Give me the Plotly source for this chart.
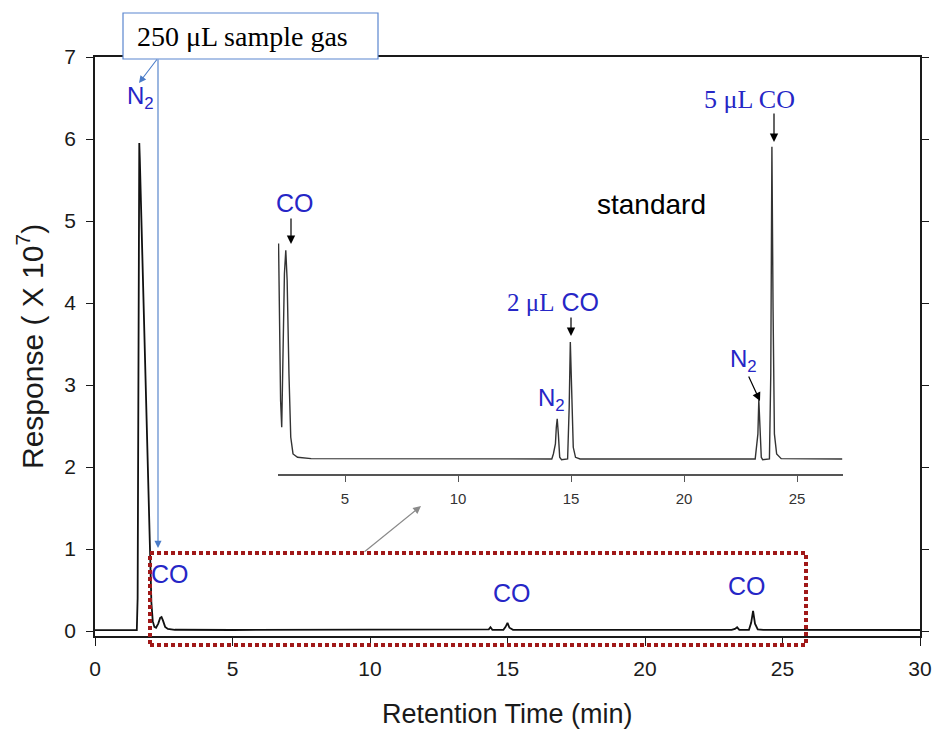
import plotly.graph_objects as go

# ---------------- data ----------------
# sample chromatogram (250 uL sample gas), response x 10^7
main_time = [0.0, 1.52, 1.55, 1.58, 1.61, 1.63, 1.70, 1.80, 1.90, 1.98, 2.05, 2.10, 2.16,
             2.22, 2.30, 2.37, 2.42, 2.47, 2.55, 2.65, 2.90, 5.0, 14.2, 14.32, 14.38,
             14.45, 14.85, 14.93, 15.0, 15.07, 15.2, 23.15, 23.27, 23.35, 23.43, 23.78,
             23.86, 23.93, 24.0, 24.1, 24.3, 30.0]
main_response = [0.01, 0.01, 0.4, 3.6, 5.95, 5.75, 4.8, 3.5, 2.2, 1.1, 0.35, 0.12, 0.05,
                 0.04, 0.09, 0.16, 0.17, 0.13, 0.05, 0.025, 0.015, 0.012, 0.012, 0.02, 0.045,
                 0.015, 0.014, 0.05, 0.1, 0.04, 0.014, 0.013, 0.025, 0.045, 0.015, 0.014,
                 0.1, 0.245, 0.09, 0.02, 0.013, 0.012]

# standard chromatogram (inset), relative response
std_time = [2.06, 2.10, 2.15, 2.20, 2.26, 2.32, 2.38, 2.44, 2.52, 2.60, 2.70, 2.90, 3.5,
            14.15, 14.22, 14.27, 14.31, 14.35, 14.39, 14.44, 14.50, 14.58, 14.85, 14.92,
            14.97, 15.03, 15.10, 15.20, 15.40, 23.15, 23.20, 23.24, 23.27, 23.31, 23.36,
            23.42, 23.48, 23.78, 23.84, 23.89, 23.94, 24.00, 24.10, 24.30, 27.0]
std_response = [0.69, 0.45, 0.22, 0.14, 0.35, 0.60, 0.67, 0.58, 0.30, 0.11, 0.06, 0.05, 0.046,
                0.045, 0.06, 0.085, 0.09, 0.14, 0.165, 0.12, 0.05, 0.043, 0.045, 0.20,
                0.395, 0.25, 0.08, 0.05, 0.045, 0.045, 0.08, 0.11, 0.12, 0.222, 0.13,
                0.05, 0.043, 0.045, 0.30, 0.98, 0.50, 0.12, 0.06, 0.046, 0.045]

x_ticks = [0, 5, 10, 15, 20, 25, 30]
y_ticks = [0, 1, 2, 3, 4, 5, 6, 7]
inset_ticks = [5, 10, 15, 20, 25]

# ---------------- layout geometry ----------------
W, H = 935, 729
L, R, T, B = 95, 920, 57, 636


def px(xp):
    return (xp - L) / (R - L)


def py(yp):
    return (B - yp) / (B - T)


SANS = "Liberation Sans, Arial, sans-serif"
SERIF = "Liberation Serif, Times New Roman, serif"
BLUE = "#2626C6"
AX = "#1a1a1a"

fig = go.Figure()
fig.add_trace(go.Scatter(x=main_time, y=main_response, mode="lines",
                         line=dict(color="#111111", width=1.8),
                         xaxis="x", yaxis="y", showlegend=False, hoverinfo="skip"))
fig.add_trace(go.Scatter(x=std_time, y=std_response, mode="lines",
                         line=dict(color="#333333", width=1.4),
                         xaxis="x2", yaxis="y2", showlegend=False, hoverinfo="skip"))

inset_x0 = (278 - 232) / 22.6
inset_x1 = (843 - 232) / 22.6

fig.update_layout(
    width=W, height=H, autosize=False,
    margin=dict(l=L, r=W - R, t=T, b=H - B, pad=0, autoexpand=False),
    paper_bgcolor="white", plot_bgcolor="white",
    font=dict(family=SANS, color=AX),
    xaxis=dict(domain=[0, 1], range=[0, 30], tickvals=x_ticks, ticks="outside",
               ticklen=8, tickwidth=1.3, tickcolor=AX, showline=True, linecolor=AX,
               linewidth=1.6, mirror=True, showgrid=False, zeroline=False, automargin=False,
               tickfont=dict(size=21, family=SANS, color=AX), ticklabelstandoff=5),
    yaxis=dict(domain=[0, 1], range=[-0.061, 7], tickvals=y_ticks, ticks="outside",
               ticklen=7, tickwidth=1.3, tickcolor=AX, showline=True, linecolor=AX,
               linewidth=1.6, mirror="ticks", showgrid=False, zeroline=False, automargin=False,
               tickfont=dict(size=21, family=SANS, color=AX), ticklabelstandoff=6),
    xaxis2=dict(domain=[px(278), px(843)], range=[inset_x0, inset_x1], anchor="y2",
                tickvals=inset_ticks, ticks="outside", ticklen=6, tickwidth=1.2,
                tickcolor="#555", showline=True, linecolor="#555", linewidth=1.5,
                showgrid=False, zeroline=False, automargin=False,
                tickfont=dict(size=15, family=SANS, color="#333"), ticklabelstandoff=4),
    yaxis2=dict(domain=[py(474), py(140)], range=[0, 1], anchor="x2", visible=False,
                automargin=False),
)

shapes = []
# red dotted zoom box
shapes.append(dict(type="rect", xref="paper", yref="paper",
                   x0=px(150), x1=px(806), y0=py(645), y1=py(553),
                   line=dict(color="#A01818", width=4, dash="4px,3px"),
                   fillcolor="rgba(0,0,0,0)", layer="above"))
# sample gas box
shapes.append(dict(type="rect", xref="paper", yref="paper",
                   x0=px(123), x1=px(378), y0=py(59), y1=py(13),
                   line=dict(color="#5B86CF", width=1.2), fillcolor="white", layer="above"))
fig.update_layout(shapes=shapes)

ann = []


def label(text, xc, yc, size, color=BLUE, family=SANS, xanchor="center"):
    ann.append(dict(text=text, xref="paper", yref="paper", x=px(xc), y=py(yc),
                    xanchor=xanchor, yanchor="middle", showarrow=False,
                    font=dict(size=size, color=color, family=family)))


def arrow(tail, tip, color="black", width=1.2, size=1.4, head=2):
    ann.append(dict(text="", xref="paper", yref="paper", x=px(tip[0]), y=py(tip[1]),
                    ax=tail[0] - tip[0], ay=tail[1] - tip[1], axref="pixel", ayref="pixel",
                    showarrow=True, arrowhead=head, arrowsize=size, arrowwidth=width,
                    arrowcolor=color, standoff=0, startstandoff=0))


# box text
label("250 μL sample gas", 135, 37, 28, color="black", family=SERIF, xanchor="left")
# blue arrows from the box
arrow((158, 58), (158, 548), color="#4A7CC8", width=1.1, size=1.3)
arrow((158, 58), (139, 83), color="#4A7CC8", width=1.1, size=1.3)
# gray arrow to inset
arrow((363, 553), (421, 506), color="#8a8a8a", width=1.2, size=1.3)

# main labels
label("N<sub>2</sub>", 140, 97, 24)
label("CO", 170, 574, 25)
label("CO", 512, 593, 25)
label("CO", 747, 586, 25)

# inset labels
label("CO", 295, 203, 25)
arrow((291, 217), (291, 244))
label("standard", 651, 204, 28, color="black")
label("<span style='font-family:Liberation Serif'>2 μL</span> CO", 553, 302, 25)
arrow((571, 316), (571, 336))
label("5 μL CO", 749, 99, 26, family=SERIF)
arrow((774, 112), (774, 142))
label("N<sub>2</sub>", 551, 399, 24)
label("N<sub>2</sub>", 743, 361, 24)
arrow((748, 375), (760, 401))

# axis titles
label("Retention Time (min)", 507, 714, 27, color=AX)
ann.append(dict(text="Response ( X 10<sup>7</sup>)", xref="paper", yref="paper",
                x=px(30), y=py(347), xanchor="center", yanchor="middle", textangle=-90,
                showarrow=False, font=dict(size=30, color=AX, family=SANS)))

fig.update_layout(annotations=ann)
fig.write_html("out.html",
               config={"displayModeBar": False, "responsive": False},
               post_script="document.body.style.margin='0';document.body.style.padding='0';")
